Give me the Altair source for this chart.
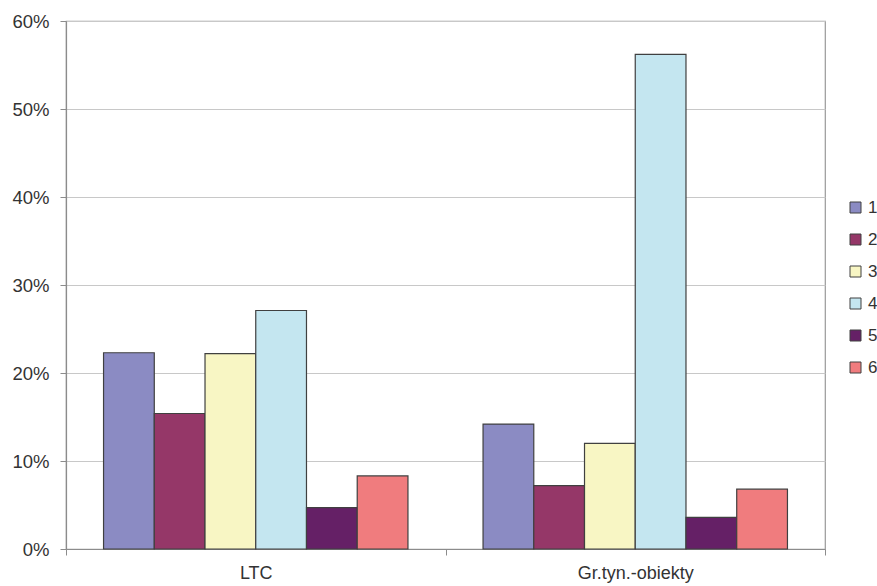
import altair as alt
import pandas as pd

# Share of each class (1-6) within the two groups
groups = ["LTC", "Gr.tyn.-obiekty"]
classes = ["1", "2", "3", "4", "5", "6"]
ltc_values = [0.223, 0.154, 0.222, 0.271, 0.047, 0.083]
grtyn_values = [0.142, 0.072, 0.120, 0.562, 0.036, 0.068]
class_colors = ["#8b8bc3", "#953768", "#f8f6c4", "#c4e6f0", "#652066", "#f07c7e"]
y_ticks = [0.0, 0.1, 0.2, 0.3, 0.4, 0.5, 0.6]

rows = []
for g, vals in zip(groups, [ltc_values, grtyn_values]):
    for c, v in zip(classes, vals):
        rows.append({"group": g, "cls": c, "share": v})
df = pd.DataFrame(rows)

FONT = "Liberation Sans"

bars = alt.Chart(df).mark_bar(
    stroke="#404040", strokeWidth=1.2
).encode(
    x=alt.X(
        "group:N",
        sort=groups,
        title=None,
        scale=alt.Scale(paddingInner=0, paddingOuter=0),
        axis=alt.Axis(
            labelAngle=0, tickBand="extent", grid=False,
            labelFontSize=18, labelFont=FONT, labelColor="#333333",
            labelPadding=9, tickSize=6, tickColor="#8c8c8c",
            domainColor="#8c8c8c", domainWidth=1.2,
        ),
    ),
    xOffset=alt.XOffset(
        "cls:N", sort=classes,
        scale=alt.Scale(paddingInner=0, paddingOuter=0.74),
    ),
    y=alt.Y(
        "share:Q",
        title=None,
        scale=alt.Scale(domain=[0, 0.6], nice=False),
        axis=alt.Axis(
            values=y_ticks, format=".0%",
            labelFontSize=18.5, labelFont=FONT, labelColor="#333333",
            labelPadding=11, tickSize=6, tickColor="#8c8c8c",
            domainColor="#8c8c8c", domainWidth=1.2,
            gridColor="#c8c8c8", gridWidth=1.2,
        ),
    ),
    color=alt.Color(
        "cls:N",
        sort=classes,
        scale=alt.Scale(domain=classes, range=class_colors),
        legend=alt.Legend(
            title=None, orient="none", legendX=781, legendY=178,
            symbolType="square", symbolSize=121,
            symbolStrokeColor="#404040", symbolStrokeWidth=1,
            labelFontSize=17, labelFont=FONT, labelColor="#333333",
            labelOffset=4, rowPadding=14, padding=0,
        ),
    ),
)

chart = bars.properties(
    width=759,
    height=528,
    autosize=alt.AutoSizeParams(type="none"),
    padding={"left": 66, "top": 21, "right": 52, "bottom": 37},
    background="white",
).configure_view(
    stroke="#9a9a9a", strokeWidth=1.2
)

chart.save("out.html", embed_options={"renderer": "svg", "actions": False})
